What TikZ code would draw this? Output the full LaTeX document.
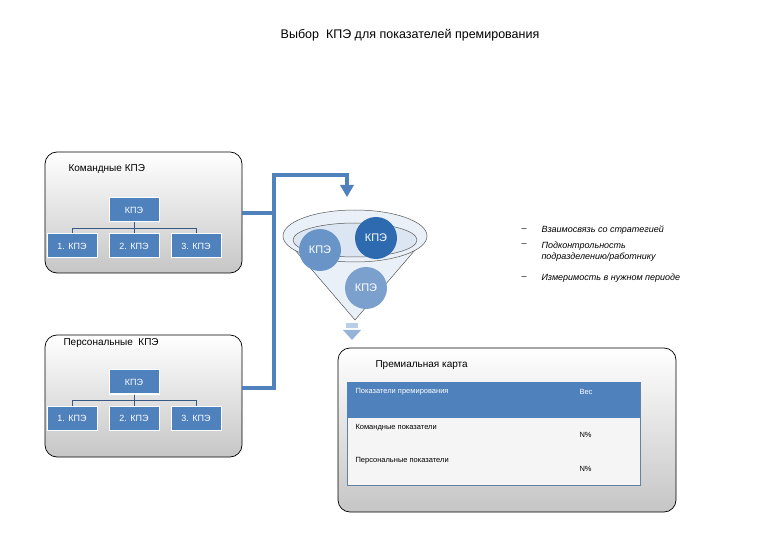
\documentclass[tikz,border=0pt]{standalone}
\usepackage{fontspec}
\setmainfont{Liberation Sans}
\usetikzlibrary{arrows.meta}
\definecolor{bl}{HTML}{4F81BD}
\definecolor{dbl}{HTML}{2E6AB0}
\begin{document}
\begin{tikzpicture}[x=1pt,y=-1pt,
  grp/.style={draw=black,rounded corners=12pt,top color=white,bottom color=gray!45,line width=0.7pt},
  kp/.style={draw=white,line width=1pt,fill=bl,text=white,font=\fontsize{9}{10}\selectfont,minimum width=50pt,minimum height=24pt,inner sep=1pt},
  con/.style={draw=bl!70!black,line width=1pt},
  pipe/.style={draw=bl,line width=4pt},
  circ/.style={circle,minimum size=42pt,text=white,font=\fontsize{11}{12}\selectfont,inner sep=0pt},
  sm/.style={font=\fontsize{7.5}{9}\selectfont,anchor=west},
  it/.style={font=\itshape\fontsize{9}{11}\selectfont,anchor=west,align=left}]
\useasboundingbox (0,0) rectangle (780,540);
\node[font=\fontsize{12.5}{14}\selectfont] (title) at (410,35) {Выбор\ \ КПЭ для показателей премирования};
% team
\draw[grp] (45,152) rectangle (242,273);
\node[font=\fontsize{10}{12}\selectfont,anchor=west] (tl) at (65,169) {Командные КПЭ};
\node[kp] (t0) at (134,210) {КПЭ};
\node[kp] (t1) at (72,246) {1. КПЭ};
\node[kp] (t2) at (134,246) {2. КПЭ};
\node[kp] (t3) at (196,246) {3. КПЭ};
\draw[con] (t0.south) -- ++(0,6) -| (t1.north);
\draw[con] (t0.south) -- (t2.north);
\draw[con] (t0.south) ++(0,6) -| (t3.north);
% personal
\draw[grp] (45,335) rectangle (242,457);
\node[font=\fontsize{10}{12}\selectfont,anchor=west] (pl) at (60,343) {Персональные\ \ КПЭ};
\node[kp] (p0) at (134,382) {КПЭ};
\node[kp] (p1) at (72,418) {1. КПЭ};
\node[kp] (p2) at (134,418) {2. КПЭ};
\node[kp] (p3) at (196,418) {3. КПЭ};
\draw[con] (p0.south) -- ++(0,6) -| (p1.north);
\draw[con] (p0.south) -- (p2.north);
\draw[con] (p0.south) ++(0,6) -| (p3.north);
% pipes
\coordinate (j1) at (242,213);
\coordinate (j2) at (242,388);
\coordinate (top) at (274,175);
\coordinate (arr) at (347,197);
\draw[pipe] (j1) -- (274,213);
\draw[pipe] (j2) -- (274,388) -- (top) -- (347,175) -- (347,186);
\fill[bl] (340,185) -- (354,185) -- (arr) -- cycle;
% funnel
\fill[bl!12] (283,236) -- (355,320) -- (427,236) -- cycle;
\draw[gray!70!black,line width=0.5pt] (283,236) -- (355,320) -- (427,236);
\draw[gray!70!black,fill=bl!12,line width=0.5pt] (355,236) ellipse (72 and 26);
\draw[gray!70!black,fill=bl!20,line width=0.5pt] (355,240) ellipse (62 and 17);
\node[circ,fill=bl!85] (c1) at (320,250) {КПЭ};
\node[circ,fill=dbl] (c2) at (376,238) {КПЭ};
\node[circ,fill=bl!75] (c3) at (366,288) {КПЭ};
\node[fill=bl!40,minimum width=12pt,minimum height=5pt,inner sep=0pt] (nk) at (352,326) {};
\fill[bl!60] (343,330) -- (361,330) -- (352,340) -- cycle;
% bullets
\foreach \y in {230,245,278}{
  \node[font=\fontsize{9}{10}\selectfont] at (524,\y) {--};
}
\node[it] (b1) at (538,230) {Взаимосвязь со стратегией};
\node[it,anchor=north west] (b2) at (538,238) {Подконтрольность\\подразделению/работнику};
\node[it] (b3) at (538,278) {Измеримость в нужном периоде};
% card
\draw[grp] (338,348) rectangle (676,512);
\node[font=\fontsize{10}{12}\selectfont,anchor=west] (ct) at (372,365) {Премиальная карта};
\draw[bl!60!gray,fill=gray!8] (347,382) rectangle (640,485);
\fill[bl] (347,382) rectangle (640,418);
\node[sm,text=white] (h1) at (352,392) {Показатели премирования};
\node[sm,text=white] (h2) at (576,392) {Вес};
\node[sm] (r1) at (352,428) {Командные показатели};
\node[sm] (r1w) at (576,435) {N\%};
\node[sm] (r2) at (352,461) {Персональные показатели};
\node[sm] (r2w) at (576,469) {N\%};
\end{tikzpicture}
\end{document}
